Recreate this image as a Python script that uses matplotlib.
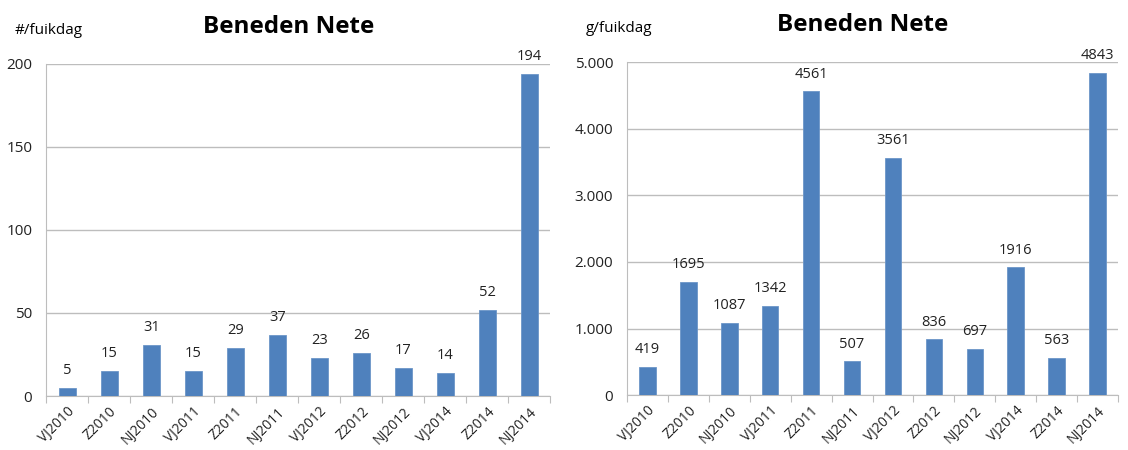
import matplotlib.pyplot as plt
from matplotlib.ticker import FuncFormatter

periods = ['VJ2010', 'Z2010', 'NJ2010', 'VJ2011', 'Z2011', 'NJ2011',
           'VJ2012', 'Z2012', 'NJ2012', 'VJ2014', 'Z2014', 'NJ2014']
aantal = [5, 15, 31, 15, 29, 37, 23, 26, 17, 14, 52, 194]
gewicht = [419, 1695, 1087, 1342, 4561, 507, 3561, 836, 697, 1916, 563, 4843]

plt.rcParams['font.family'] = ['Open Sans', 'DejaVu Sans']

fig = plt.figure(figsize=(11.28, 4.5), dpi=100)
ax1 = fig.add_axes([0.041, 0.12, 0.447, 0.738])
ax2 = fig.add_axes([0.556, 0.122, 0.435, 0.740])

bar_color = '#4F81BD'


def style(ax, values, ymax, step, unit, unit_x, title, fmt):
    x = range(len(values))
    ax.bar(x, values, width=0.4, color=bar_color, edgecolor='#6C96C8', linewidth=0.6, zorder=3)
    for i, v in zip(x, values):
        ax.annotate(str(v), (i, v), xytext=(0, 7), textcoords='offset points',
                    ha='center', va='bottom', fontsize=10.5, color='#222222')
    ax.set_xlim(-0.5, len(values) - 0.5)
    ax.set_ylim(0, ymax)
    ax.set_yticks(range(0, ymax + 1, step))
    ax.yaxis.set_major_formatter(FuncFormatter(fmt))
    ax.grid(axis='y', color='#BDBDBD', linewidth=1, zorder=0)
    for s in ['top', 'right']:
        ax.spines[s].set_visible(False)
    ax.spines['left'].set_color('#BDBDBD')
    ax.spines['bottom'].set_color('#BDBDBD')
    ax.tick_params(axis='y', length=0, labelsize=11, pad=10, colors='#222222')
    # tick marks sit between categories, labels sit under the bars
    ax.set_xticks([i - 0.5 for i in range(len(values) + 1)], minor=False)
    ax.set_xticklabels([])
    ax.set_xticks(list(x), minor=True)
    ax.set_xticklabels(periods, minor=True, rotation=45, ha='right',
                       rotation_mode='anchor', fontsize=10)
    ax.tick_params(axis='x', which='major', length=5, color='#BDBDBD', direction='out')
    ax.tick_params(axis='x', which='minor', length=0, pad=6, colors='#222222')
    ax.text(unit_x, 1.1, unit, transform=ax.transAxes,
            fontsize=11, ha='left', va='center')
    ax.text(0.48, 1.11, title, transform=ax.transAxes, fontsize=17.5,
            fontweight='bold', ha='center', va='center')


style(ax1, aantal, 200, 50, '#/fuikdag', -0.063, 'Beneden Nete',
      lambda v, p: f'{int(v)}')
style(ax2, gewicht, 5000, 1000, 'g/fuikdag', -0.085, 'Beneden Nete',
      lambda v, p: f'{int(v):,}'.replace(',', '.'))

fig.savefig('out.png', dpi=100)
